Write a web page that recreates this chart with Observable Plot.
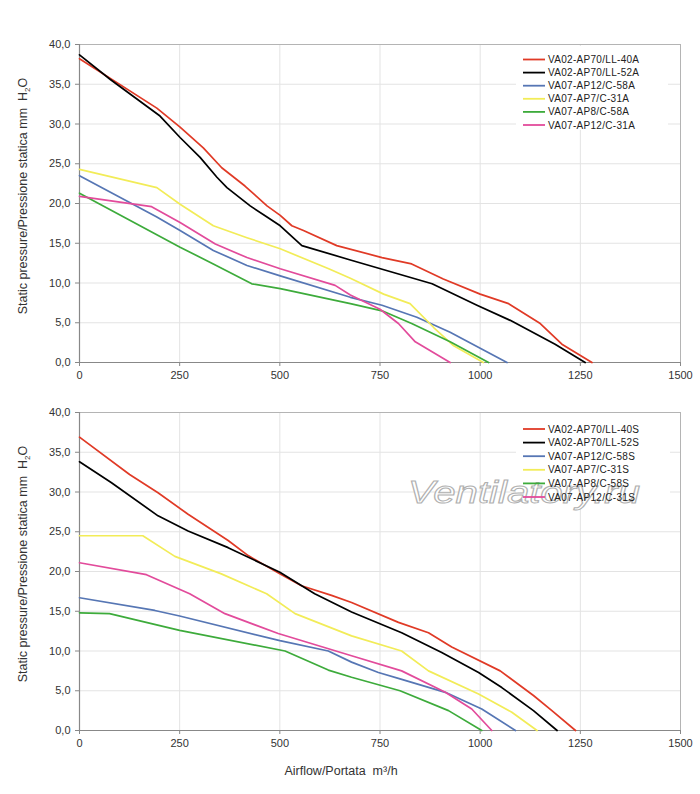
<!DOCTYPE html>
<html>
<head>
<meta charset="utf-8">
<script src="https://cdn.jsdelivr.net/npm/d3@7"></script>
<script src="https://cdn.jsdelivr.net/npm/@observablehq/plot@0.6"></script>
<style>
  html, body { margin: 0; padding: 0; background: #fff; }
  #wrap { width: 700px; }
  #wrap svg { display: block; }
</style>
</head>
<body>
<div id="wrap"></div>
<script>
// ---------- data (airflow m3/h, static pressure mm H2O) ----------
const xTicks = [0, 250, 500, 750, 1000, 1250, 1500];
const yTicks = [0, 5, 10, 15, 20, 25, 30, 35, 40];
const colors = ["#e03a26", "#000000", "#5676b4", "#f2ec58", "#3dab3b", "#e24b9b"];

const namesA = ["VA02-AP70/LL-40A", "VA02-AP70/LL-52A", "VA07-AP12/C-58A", "VA07-AP7/C-31A", "VA07-AP8/C-58A", "VA07-AP12/C-31A"];
const namesS = ["VA02-AP70/LL-40S", "VA02-AP70/LL-52S", "VA07-AP12/C-58S", "VA07-AP7/C-31S", "VA07-AP8/C-58S", "VA07-AP12/C-31S"];

const ll40A = [[0,38.2],[193,32.0],[251,29.6],[309,27.0],[355,24.5],[413,22.2],[468,19.7],[501,18.5],[530,17.2],[559,16.6],[642,14.7],[755,13.2],[829,12.4],[908,10.5],[1000,8.6],[1071,7.4],[1150,4.9],[1204,2.3],[1279,0]];
const ll52A = [[0,38.7],[77,35.6],[201,31.0],[251,28.3],[301,25.8],[343,23.3],[368,22.0],[426,19.7],[468,18.3],[501,17.2],[555,14.7],[676,12.9],[880,9.9],[992,7.2],[1075,5.3],[1187,2.3],[1262,0]];
const c58A_12 = [[0,23.5],[193,18.3],[251,16.6],[334,14.1],[418,12.2],[501,10.9],[676,8.2],[755,7.2],[842,5.7],[925,3.8],[1067,0]];
const c31A_7 = [[0,24.3],[193,22.0],[251,19.9],[334,17.2],[418,15.7],[501,14.3],[622,11.8],[676,10.6],[759,8.6],[825,7.4],[884,4.4],[934,2.1],[1008,0]];
const c58A_8 = [[0,21.3],[251,14.5],[334,12.4],[430,9.9],[501,9.3],[676,7.4],[755,6.5],[829,4.9],[925,2.6],[1021,0]];
const c31A_12 = [[0,20.9],[180,19.6],[251,17.6],[339,14.9],[418,13.2],[501,11.8],[638,9.7],[676,8.5],[750,6.7],[796,4.9],[838,2.6],[925,0]];

const ll40S = [[0,36.9],[125,32.2],[196,29.9],[271,27.2],[371,23.9],[421,22.0],[500,19.7],[554,18.2],[629,17.0],[679,16.1],[796,13.6],[871,12.3],[929,10.5],[1050,7.5],[1133,4.4],[1179,2.5],[1238,0]];
const ll52S = [[0,33.8],[79,31.2],[196,27.0],[271,25.1],[371,23.0],[500,19.9],[587,17.2],[679,14.9],[804,12.3],[904,9.8],[996,7.3],[1054,5.4],[1133,2.5],[1192,0]];
const c58S_12 = [[0,16.7],[188,15.1],[250,14.4],[500,11.3],[621,10.0],[679,8.6],[746,7.3],[800,6.5],[913,4.8],[1004,2.7],[1088,0]];
const c31S_7 = [[0,24.5],[158,24.5],[238,21.9],[354,19.7],[467,17.2],[538,14.7],[679,11.9],[804,10.0],[871,7.5],[996,4.6],[1079,2.3],[1142,0]];
const c58S_8 = [[0,14.8],[75,14.7],[250,12.6],[513,10.0],[621,7.6],[679,6.7],[800,5.0],[921,2.5],[1004,0]];
const c31S_12 = [[0,21.1],[167,19.6],[275,17.2],[363,14.7],[496,12.2],[679,9.4],[804,7.5],[913,4.8],[979,2.7],[1029,0]];

const seriesA = [ll40A, ll52A, c58A_12, c31A_7, c58A_8, c31A_12];
const seriesS = [ll40S, ll52S, c58S_12, c31S_7, c58S_8, c31S_12];

const FONT = "'Liberation Sans', Arial, sans-serif";
const fmtY = d => d.toFixed(1).replace(".", ",");

function makeChart(names, series, opts) {
  const rows = names.flatMap((n, i) => series[i].map(([q, p]) => ({name: n, q, p})));
  const svg = Plot.plot({
    width: 700,
    height: opts.height,
    marginLeft: 79,
    marginRight: 20,
    marginTop: opts.marginTop,
    marginBottom: opts.marginBottom,
    style: {fontFamily: FONT, fontSize: "11px", color: "#333", background: "#fff"},
    x: {domain: [0, 1500], label: null},
    y: {domain: [0, 40], label: null},
    color: {domain: names, range: colors},
    marks: [
      Plot.gridX({ticks: xTicks, stroke: "#e3e3e3", strokeOpacity: 1}),
      Plot.gridY({ticks: yTicks, stroke: "#e3e3e3", strokeOpacity: 1}),
      Plot.frame({stroke: "#b4b4b4"}),
      Plot.axisX({ticks: xTicks, tickSize: 4, tickPadding: 5, tickFormat: d => String(d), stroke: "#888", fill: "#333", fontSize: 11, label: null}),
      Plot.axisY({ticks: yTicks, tickSize: 4, tickPadding: 5, tickFormat: fmtY, stroke: "#888", fill: "#333", fontSize: 11, label: null}),
      Plot.ruleX([0], {stroke: "#888", strokeWidth: 1.2}),
      Plot.ruleY([0], {stroke: "#888", strokeWidth: 1.2}),
      Plot.line(rows, {x: "q", y: "p", z: "name", stroke: "name", strokeWidth: 1.7})
    ]
  });
  const s = d3.select(svg);
  const top = opts.marginTop, bottom = opts.height - opts.marginBottom;
  // y-axis title with subscript
  const yc = (top + bottom) / 2 - 7;
  const t = s.append("text")
    .attr("transform", `translate(27,${yc}) rotate(-90)`)
    .attr("text-anchor", "middle")
    .attr("font-family", FONT).attr("font-size", 12.5).attr("fill", "#333");
  t.append("tspan").text("Static pressure/Pressione statica mm  H");
  t.append("tspan").attr("font-size", 8).attr("dy", 3).text("2");
  t.append("tspan").attr("dy", -3).text("O");
  // legend background
  const lb = opts.legendBox;
  s.append("rect").attr("x", lb[0]).attr("y", lb[1]).attr("width", lb[2]).attr("height", lb[3]).attr("fill", "#fff");
  if (opts.watermark) {
    s.append("text")
      .attr("x", 408).attr("y", opts.watermark)
      .attr("text-anchor", "start")
      .attr("font-family", FONT).attr("font-style", "italic").attr("font-size", 31)
      .attr("textLength", 232).attr("lengthAdjust", "spacingAndGlyphs")
      .attr("fill", "#fff").attr("stroke", "#b0b0b0").attr("stroke-width", 1)
      .text("Ventilatory.ru");
  }
  names.forEach((n, i) => {
    const y = opts.legendY + i * opts.legendStep;
    s.append("line").attr("x1", 523).attr("x2", 545).attr("y1", y).attr("y2", y)
      .attr("stroke", colors[i]).attr("stroke-width", 1.8);
    s.append("text").attr("x", 548).attr("y", y).attr("dy", "0.35em")
      .attr("text-anchor", "start").attr("letter-spacing", 0.3)
      .attr("font-family", FONT).attr("font-size", 10).attr("fill", "#222").text(n);
  });
  if (opts.xLabel) {
    s.append("text").attr("x", 341).attr("y", opts.xLabel).attr("text-anchor", "middle")
      .attr("font-family", FONT).attr("font-size", 12.5).attr("fill", "#333")
      .text("Airflow/Portata  m³/h");
  }
  return svg;
}

const wrap = document.getElementById("wrap");
wrap.appendChild(makeChart(namesA, seriesA, {
  height: 390, marginTop: 44, marginBottom: 28,
  legendBox: [516, 46, 152, 84], legendY: 59.5, legendStep: 13.1
}));
// second chart starts at page y = 390
wrap.appendChild(makeChart(namesS, seriesS, {
  height: 404, marginTop: 22, marginBottom: 64,
  legendBox: [516, 23, 154, 93], legendY: 39, legendStep: 13.6,
  watermark: 113, xLabel: 385
}));
</script>
</body>
</html>
